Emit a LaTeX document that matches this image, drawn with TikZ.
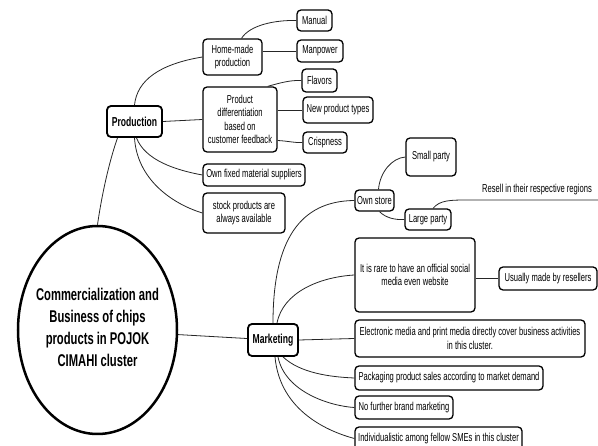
\documentclass[tikz,border=0pt]{standalone}
\usepackage{fontspec}
\setmainfont{Liberation Sans}[FakeStretch=0.66]
\usetikzlibrary{shapes.geometric}
\tikzset{
  box/.style={draw, rounded corners=4pt, line width=1.3pt, align=center, inner sep=1pt,
    font=\fontsize{11.5}{13.5}\selectfont},
  mainbox/.style={draw, rounded corners=4pt, line width=1.8pt, align=center, inner sep=1pt,
    font=\fontsize{13}{15}\selectfont\bfseries},
  conn/.style={line width=0.8pt, black!85},
}
\begin{document}
\begin{tikzpicture}[x=1pt,y=-1pt]
\useasboundingbox (0,0) rectangle (598,446);
\begin{scope}
\clip (0,0) rectangle (598,446);
% central
\node[draw, ellipse, line width=2.5pt, minimum width=159pt, minimum height=208pt, inner sep=0pt] (ell) at (97.5,330) {};
\node[align=center, font=\fontsize{17}{22}\selectfont\bfseries] (ellt) at (97.5,327)
  {Commercialization and\\Business of chips\\products in POJOK\\CIMAHI cluster};
% production branch
\node[mainbox, minimum width=55pt, minimum height=31pt] (pr) at (134.5,121.5) {Production};
\node[box, minimum width=59pt, minimum height=36pt] (hm) at (232.5,57) {Home-made\\production};
\node[box, minimum width=74pt, minimum height=65pt] (pd) at (240,119.5) {Product\\differentiation\\based on\\customer feedback};
\node[box, minimum width=102pt, minimum height=22pt] (of) at (254,175) {Own fixed material suppliers};
\node[box, minimum width=82pt, minimum height=40pt] (st) at (244,213) {stock products are\\always available};
\node[box, minimum width=35pt, minimum height=21pt] (ma) at (314.5,20.5) {Manual};
\node[box, minimum width=46pt, minimum height=22pt] (mp) at (320,51) {Manpower};
\node[box, minimum width=35pt, minimum height=23pt] (fl) at (319.5,80.5) {Flavors};
\node[box, minimum width=70pt, minimum height=26pt] (np) at (338,110) {New product types};
\node[box, minimum width=44pt, minimum height=21pt] (cr) at (325,142.5) {Crispness};
% marketing branch
\node[mainbox, minimum width=50pt, minimum height=32pt] (mk) at (273,340) {Marketing};
\node[box, minimum width=39pt, minimum height=21pt] (os) at (374.5,200.5) {Own store};
\node[box, minimum width=50pt, minimum height=38pt] (sp) at (431,157) {Small party};
\node[box, minimum width=46pt, minimum height=21pt] (lp) at (428,219.5) {Large party};
\node[font=\fontsize{11.5}{13.5}\selectfont, inner sep=1pt] (rs) at (537,190) {Resell in their respective regions};
\coordinate (rsend) at (598,200);
\node[box, minimum width=120pt, minimum height=74pt] (ir) at (415,275) {It is rare to have an official social\\media even website};
\node[box, minimum width=98pt, minimum height=23pt] (us) at (548,278.5) {Usually made by resellers};
\node[box, minimum width=230pt, minimum height=37pt] (el) at (470,338.5) {Electronic media and print media directly cover business activities\\in this cluster.};
\node[box, minimum width=188pt, minimum height=24pt] (pk) at (449,378) {Packaging product sales according to market demand};
\node[box, minimum width=98pt, minimum height=23pt] (nf) at (404,407.5) {No further brand marketing};
\node[box, minimum width=167pt, minimum height=23pt] (in) at (438.5,438.5) {Individualistic among fellow SMEs in this cluster};
% connectors production
\draw[conn] (pr.north) .. controls (137,80) and (160,64) .. (hm.west);
\draw[conn] (pr.east) -- (pd.west);
\draw[conn] ([xshift=2pt]pr.south) .. controls (145,160) and (175,170) .. (of.west);
\draw[conn] (pr.south) .. controls (137,178) and (170,203) .. (st.west);
\draw[conn] ([xshift=-17pt]pr.south) .. controls (108,165) and (101,200) .. (ell.north);
\draw[conn] ([xshift=9pt]hm.north) .. controls (250,25) and (275,20) .. (ma.west);
\draw[conn] (hm.east |- mp.west) -- (mp.west);
\draw[conn] ([xshift=-10pt]pd.north east) .. controls (280,83) and (290,80) .. (fl.west);
\draw[conn] (pd.east |- np.west) -- (np.west);
\draw[conn] ([yshift=-21pt]pd.east) .. controls (288,141) and (295,143) .. (cr.west);
% connectors marketing
\draw[conn] (ell) -- (mk);
\draw[conn] (mk.north) .. controls (273,240) and (300,201) .. (os.west);
\draw[conn] ([xshift=4pt]mk.north) .. controls (283,292) and (320,277) .. (ir.west);
\draw[conn] (mk.east) -- (el.west);
\draw[conn] ([xshift=10pt]mk.south) .. controls (300,373) and (330,377) .. (pk.west);
\draw[conn] ([xshift=5pt]mk.south) .. controls (285,392) and (330,406) .. (nf.west);
\draw[conn] ([xshift=2pt]mk.south) .. controls (280,412) and (330,432) .. (in.west);
\draw[conn] ([xshift=4pt]os.north) .. controls (380,172) and (392,158) .. (sp.west);
\draw[conn] ([xshift=5pt]os.south) .. controls (386,218) and (395,220) .. (lp.west);
\draw[conn] ([xshift=5pt]lp.north) .. controls (440,200) and (450,200) .. (470,200) -- (rsend);
\draw[conn] (ir.east |- us.west) -- (us.west);
\end{scope}
\end{tikzpicture}
\end{document}
